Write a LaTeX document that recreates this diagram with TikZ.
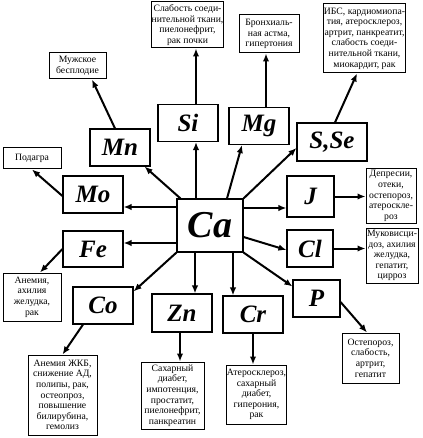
\documentclass[tikz,border=0pt]{standalone}
\usepackage{fontspec}
\setmainfont{Liberation Serif}
\usetikzlibrary{arrows.meta}

\begin{document}
\begin{tikzpicture}[x=1pt,y=-1pt,
  elem/.style={draw, line width=1.1pt, inner sep=0pt, minimum width=60pt, minimum height=37pt, font=\fontsize{25}{25}\selectfont\bfseries\itshape},
  note/.style={draw, line width=1pt, inner sep=0pt, align=center, font=\fontsize{9.7}{10.6}\selectfont},
  arr/.style={-{Latex[length=8pt,width=6.5pt]}, line width=2pt}]
\useasboundingbox (0,0) rectangle (422,438);

% elements
\node[elem, minimum width=66pt, minimum height=53pt, font=\fontsize{38}{38}\selectfont\bfseries\itshape] (Ca) at (210,225.5) {Ca};
\node[elem] (Si) at (188,123) {Si};
\node[elem] (Mn) at (120,147.5) {Mn};
\node[elem] (Mg) at (259,126) {Mg};
\node[elem, minimum width=70pt, minimum height=38pt] (SSe) at (332,142) {S,Se};
\node[elem] (Mo) at (93,194.5) {Mo};
\node[elem, minimum height=36pt] (Fe) at (93,249) {Fe};
\node[elem, minimum width=47pt, minimum height=41pt] (J) at (310.5,196.5) {J};
\node[elem, minimum width=46pt] (Cl) at (310,248.5) {Cl};
\node[elem, minimum width=47pt] (P) at (316.5,298.5) {P};
\node[elem] (Co) at (103,305.5) {Co};
\node[elem, minimum height=38pt] (Zn) at (182,313) {Zn};
\node[elem] (Cr) at (253,314.5) {Cr};

% diseases
\node[note, minimum width=57pt, minimum height=26pt] (besplodie) at (77.5,66) {Мужское\\бесплодие};
\node[note, minimum width=61pt, minimum height=46pt] (tkan) at (187.5,25) {Слабость соеди-\\нительной ткани,\\пиелонефрит,\\рак почки};
\node[note, minimum width=60pt, minimum height=38pt] (astma) at (269,34) {Бронхиаль-\\ная астма,\\гипертония};
\node[note, minimum width=79pt, minimum height=69pt] (ibs) at (364.5,38.5) {ИБС, кардиомиопа-\\тия, атеросклероз,\\артрит, панкреатит,\\слабость соеди-\\нительной ткани,\\миокардит, рак};
\node[note, minimum width=58pt, minimum height=21pt] (podagra) at (32,158.5) {Подагра};
\node[note, minimum width=58pt, minimum height=48pt] (anemia) at (32,297) {Анемия,\\ахилия\\желудка,\\рак};
\node[note, minimum width=50pt, minimum height=54pt] (depres) at (391,196) {Депресии,\\отеки,\\остепороз,\\атероскле-\\роз};
\node[note, minimum width=52pt, minimum height=55pt] (mukov) at (392,255.5) {Муковисци-\\доз, ахилия\\желудка,\\гепатит,\\цирроз};
\node[note, minimum width=69pt, minimum height=80pt] (jkb) at (62.5,395) {Анемия ЖКБ,\\снижение АД,\\полипы, рак,\\остеопроз,\\повышение\\билирубина,\\гемолиз};
\node[note, minimum width=63pt, minimum height=67pt] (diabet) at (172.5,395.5) {Сахарный\\диабет,\\импотенция,\\простатит,\\пиелонефрит,\\панкреатин};
\node[note, minimum width=59pt, minimum height=59pt] (ateroskl) at (256.5,394.5) {Атеросклероз,\\сахарный\\диабет,\\гиперония,\\рак};
\node[note, minimum width=57pt, minimum height=50pt] (osteop) at (370.5,358) {Остепороз,\\слабость,\\артрит,\\гепатит};

% Ca -> elements
\draw[arr] ([xshift=-14pt]Ca.north) -- ([xshift=-14pt]Ca.north |- Si.south);
\draw[arr] ([xshift=4pt]Ca.north west) -- ([xshift=-6pt]Mn.south east);
\draw[arr] ([xshift=17pt]Ca.north) -- ([xshift=-17pt]Mg.south);
\draw[arr] (Ca.north east) -- ([yshift=-6pt]SSe.west);
\draw[arr] ([yshift=18.5pt]Ca.west) -- ([yshift=18.5pt]Ca.west -| Mo.east);
\draw[arr] ([yshift=-17.5pt]Ca.west) -- ([yshift=-17.5pt]Ca.west -| Fe.east);
\draw[arr] ([yshift=17.5pt]Ca.east) -- ([yshift=17.5pt]Ca.east -| J.west);
\draw[arr] ([yshift=-11.5pt]Ca.east) -- ([yshift=-1.5pt]Cl.west);
\draw[arr] (Ca.south east) -- ([yshift=-7pt]P.north west);
\draw[arr] (Ca.south west) -- ([yshift=-5pt]Co.north east);
\draw[arr] ([xshift=-15pt]Ca.south) -- ([xshift=-15pt]Ca.south |- Zn.north);
\draw[arr] ([xshift=23pt]Ca.south) -- ([xshift=23pt]Ca.south |- Cr.north);

% elements -> diseases
\draw[arr] ([xshift=8pt]Si.north) -- ([xshift=8pt]Si.north |- tkan.south);
\draw[arr] ([xshift=-5pt]Mn.north) -- ([xshift=14.5pt]besplodie.south);
\draw[arr] ([xshift=7pt]Mg.north) -- ([xshift=7pt]Mg.north |- astma.south);
\draw[arr] ([xshift=3pt]SSe.north) -- ([xshift=-7.5pt]ibs.south);
\draw[arr] ([yshift=-1.5pt]Mo.west) -- (podagra.south);
\draw[arr] (Fe.west) -- ([xshift=8pt]anemia.north);
\draw[arr] ([xshift=-20pt]Co.south) -- (jkb.north);
\draw[arr] ([xshift=-2pt]Zn.south) -- ([xshift=-2pt]Zn.south |- diabet.north);
\draw[arr] (Cr.south) -- (Cr.south |- ateroskl.north);
\draw[arr] ([yshift=-3.5pt]P.east) -- ([xshift=-3.5pt]osteop.north);
\draw[arr] (J.east) -- (J.east -| depres.west);
\draw[arr] (Cl.east) -- (Cl.east -| mukov.west);
\end{tikzpicture}
\end{document}
